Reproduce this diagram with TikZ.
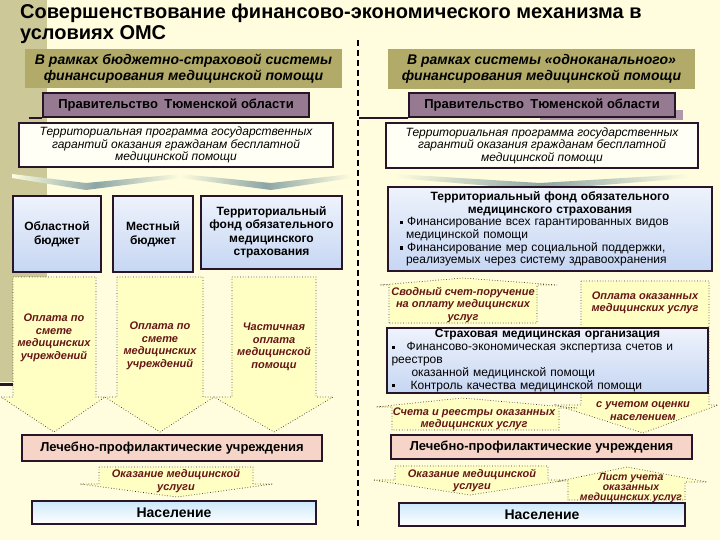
\documentclass[tikz,border=0pt]{standalone}
\usepackage{fontspec}
\setmainfont{Liberation Sans}
\usetikzlibrary{positioning}

\definecolor{bgcol}{RGB}{255,253,222}
\definecolor{stripcol}{RGB}{204,200,152}
\definecolor{hdrcol}{RGB}{178,170,104}
\definecolor{govcol}{RGB}{150,122,146}
\definecolor{govshadow}{RGB}{175,152,172}
\definecolor{progcol}{RGB}{255,255,246}
\definecolor{boxline}{RGB}{40,22,40}
\definecolor{blueT}{RGB}{238,243,252}
\definecolor{blueB}{RGB}{198,214,243}
\definecolor{nasT}{RGB}{205,232,250}
\definecolor{arrfill}{RGB}{255,255,196}
\definecolor{arrtext}{RGB}{102,22,22}
\definecolor{lpucol}{RGB}{246,212,200}
\definecolor{chevcol}{RGB}{140,166,166}

\newcommand{\sqb}{\rule[0.25ex]{0.5ex}{0.5ex}}

\begin{document}
\begin{tikzpicture}[x=1pt, y=-1pt,
    box/.style={draw=boxline, line width=1.8pt, align=center, inner sep=1pt},
    bluebox/.style={box, top color=blueT, bottom color=blueB, font=\fontsize{12}{13.5}\selectfont\bfseries},
    hdr/.style={fill=hdrcol, align=center, font=\fontsize{14}{15.5}\selectfont\bfseries\itshape},
    gov/.style={box, fill=govcol, font=\fontsize{13}{14}\selectfont\bfseries},
    prog/.style={box, fill=progcol, font=\fontsize{12}{12.5}\selectfont\itshape},
    lpu/.style={box, fill=lpucol, font=\fontsize{13}{14}\selectfont\bfseries},
    nas/.style={box, top color=nasT, bottom color=white, font=\fontsize{14}{15}\selectfont\bfseries},
    arr/.style={draw=black!80, dotted, line width=0.7pt, fill=arrfill},
    atext/.style={align=center, text=arrtext, inner sep=0pt, font=\fontsize{11}{12.5}\selectfont\bfseries\itshape},
    chev/.style={left color=bgcol, right color=bgcol, middle color=chevcol}
  ]
  \useasboundingbox (0,0) rectangle (720,540);
  \fill[bgcol] (0,0) rectangle (720,540);
  \fill[stripcol] (0,0) rectangle (47,382);
  \draw[boxline, line width=3pt] (0,384) -- (47,384);

  \node[anchor=north west, align=left, inner sep=0pt, font=\fontsize{20}{21}\selectfont\bfseries] (title) at (20,4)
    {Совершенствование финансово-экономического механизма в\\условиях ОМС};

  % divider
  \draw[black, line width=2pt, dash pattern=on 6pt off 4pt] (358,40) -- (358,528);

  % headers
  \node[hdr, minimum width=317, minimum height=39] (hdrL) at (183.5,68.5)
    {В рамках бюджетно-страховой системы\\финансирования медицинской помощи};
  \node[hdr, minimum width=307, minimum height=40] (hdrR) at (541.5,69)
    {В рамках системы «одноканального»\\финансирования медицинской помощи};

  \fill[govshadow] (540,110) rectangle (683,120);
  \node[gov, minimum width=266, minimum height=24] (govL) at (176,105) {Правительство\enspace Тюменской области};
  \node[gov, minimum width=266, minimum height=24] (govR) at (542,105) {Правительство\enspace Тюменской области};
  \draw[boxline, line width=1.5pt] (govL.south west) -- +(-13,0);
  \draw[boxline, line width=1.5pt] (govR.south west) -- +(-49,0);

  \node[prog, minimum width=314, minimum height=44] (progL) at (176,145)
    {Территориальная программа государственных\\гарантий оказания гражданам бесплатной\\медицинской помощи};
  \node[prog, minimum width=312, minimum height=45] (progR) at (542,145.5)
    {Территориальная программа государственных\\гарантий оказания гражданам бесплатной\\медицинской помощи};

  % chevrons
  \shade[chev] (12,174) -- (86,183) -- (180,174) -- (180,178) -- (86,190) -- (12,178) -- cycle;
  \shade[chev] (180,174) -- (271,183) -- (352,174) -- (352,178) -- (271,190) -- (180,178) -- cycle;
  \shade[chev] (395,174) -- (540,183) -- (690,174) -- (690,178) -- (540,190) -- (395,178) -- cycle;

  % left column
  \node[bluebox, minimum width=88, minimum height=76] (budO) at (57,234) {Областной\\бюджет};
  \node[bluebox, minimum width=80, minimum height=76] (budM) at (153,234) {Местный\\бюджет};
  \node[bluebox, minimum width=141, minimum height=73] (fondL) at (271.5,232.5)
    {Территориальный\\фонд обязательного\\медицинского\\страхования};

  \filldraw[arr] (13,277) -- (96,277) -- (96,397) -- (105,397) -- (54,432) -- (1,397) -- (13,397) -- cycle;
  \filldraw[arr] (117,277) -- (203,277) -- (203,397) -- (214,397) -- (160,432) -- (105,397) -- (117,397) -- cycle;
  \filldraw[arr] (232,277) -- (316,277) -- (316,397) -- (333,397) -- (274,432) -- (214,397) -- (232,397) -- cycle;
  \node[atext] (payO) at (54,338) {Оплата по\\смете\\медицинских\\учреждений};
  \node[atext] (payM) at (160,346) {Оплата по\\смете\\медицинских\\учреждений};
  \node[atext] (payF) at (274,347) {Частичная\\оплата\\медицинской\\помощи};

  \node[lpu, minimum width=300, minimum height=26] (lpuL) at (172,448) {Лечебно-профилактические учреждения};
  \filldraw[arr] (99,467) -- (253,467) -- (253,484) -- (273,484) -- (177,497) -- (80,484) -- (99,484) -- cycle;
  \node[atext] (servL) at (176,481) {Оказание медицинской\\услуги};
  \node[nas, minimum width=284, minimum height=23] (nasL) at (174,512.5) {Население};

  % right column
  \node[bluebox, minimum width=324, minimum height=84, text width=300pt, align=left, inner sep=0pt,
        font=\fontsize{12}{12.6}\selectfont] (fondR) at (550,229)
    {{\centering\bfseries Территориальный фонд обязательного\\медицинского страхования\par}
     \sqb\ Финансирование всех гарантированных видов\\
     \hspace*{6pt}медицинской помощи\\
     \sqb\ Финансирование мер социальной поддержки,\\
     \hspace*{6pt}реализуемых через систему здравоохранения};

  \filldraw[arr] (581,281) -- (709,281) -- (709,405) -- (718,405) -- (643,433) -- (556,405) -- (581,405) -- cycle;
  \node[atext] (payR) at (645,303) {Оплата оказанных\\медицинских услуг};
  \node[atext] (evalR) at (643,411) {с учетом оценки\\населением};

  \filldraw[arr] (389,323) -- (389,285) -- (380,285) -- (463,278) -- (557,285) -- (537,285) -- (537,323) -- cycle;
  \node[atext] (billR) at (463,305) {Сводный счет-поручение\\на оплату медицинских\\услуг};

  \node[bluebox, minimum width=321, minimum height=65, text width=312pt, align=left, inner sep=0pt,
        font=\fontsize{12}{12.8}\selectfont] (smo) at (547.5,360.5)
    {{\centering\bfseries Страховая медицинская организация\par}
     \sqb\hspace{12pt}Финансово-экономическая экспертиза счетов и\\
     реестров\\
     \hspace*{20pt}оказанной медицинской помощи\\
     \sqb\hspace{16pt}Контроль качества медицинской помощи};

  \filldraw[arr] (392,430) -- (392,407) -- (376,407) -- (462,398) -- (577,408) -- (559,408) -- (559,430) -- cycle;
  \node[atext] (regR) at (474,419) {Счета и реестры оказанных\\медицинских услуг};

  \node[lpu, minimum width=301, minimum height=24] (lpuR) at (541.5,447) {Лечебно-профилактические учреждения};

  \filldraw[arr] (395,466) -- (548,466) -- (548,480) -- (567,480) -- (470,495) -- (373,480) -- (395,480) -- cycle;
  \node[atext] (servR) at (472,480.5) {Оказание медицинской\\услуги};

  \filldraw[arr] (568,500) -- (568,481) -- (560,481) -- (627,467) -- (707,482) -- (685,482) -- (685,500) -- cycle;
  \node[atext, font=\fontsize{10.5}{10.3}\selectfont\bfseries\itshape] (listR) at (631,488) {Лист учета\\оказанных\\медицинских услуг};

  \node[nas, minimum width=286, minimum height=23] (nasR) at (542,514.5) {Население};
\end{tikzpicture}
\end{document}
